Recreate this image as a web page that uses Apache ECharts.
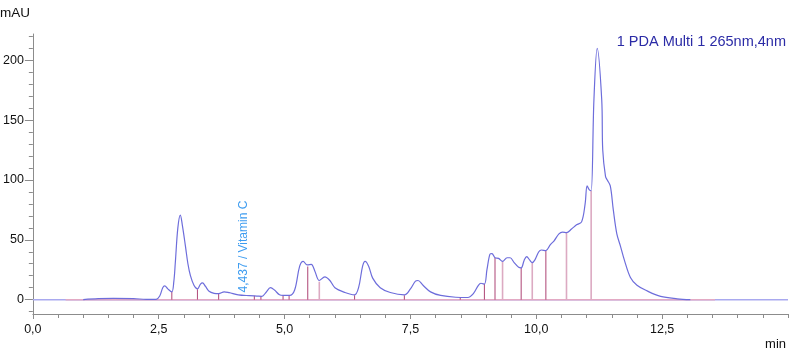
<!DOCTYPE html>
<html><head><meta charset="utf-8">
<script src="https://cdn.jsdelivr.net/npm/echarts@6/dist/echarts.min.js"></script>
<style>html,body{margin:0;padding:0;background:#fff}#c{width:790px;height:356px}</style>
</head><body><div id="c"></div>
<script>
// Chromatogram trace: retention time (min) and absorbance (mAU)
const traceTimes = [1.0,1.3,1.6,2.0,2.25,2.45,2.52,2.58,2.62,2.68,2.76,2.8,2.83,2.88,2.93,2.97,3.03,3.08,3.13,3.2,3.27,3.33,3.37,3.43,3.5,3.6,3.69,3.8,3.9,4.08,4.3,4.45,4.55,4.63,4.72,4.8,4.9,4.97,5.1,5.2,5.3,5.37,5.45,5.53,5.6,5.69,5.8,5.9,6.0,6.2,6.39,6.47,6.55,6.6,6.67,6.75,6.9,7.1,7.38,7.5,7.6,7.65,7.75,7.9,8.1,8.4,8.64,8.75,8.85,8.9,8.97,9.02,9.08,9.12,9.18,9.25,9.33,9.42,9.48,9.56,9.65,9.7,9.76,9.81,9.87,9.92,9.97,10.05,10.1,10.19,10.28,10.35,10.45,10.52,10.6,10.7,10.8,10.9,10.97,11.01,11.05,11.09,11.145,11.21,11.3,11.32,11.375,11.41,11.47,11.53,11.6,11.67,11.75,11.87,12.0,12.2,12.47,12.8,13.06];
const traceValues = [0,0.8,1.0,0.9,0.2,0.3,3,10,11.5,9,6.5,15,31,60,70.7,62,45,30,20,12,9,13,14,11,7,5.3,5,6.5,5.8,4,3.3,3,2.8,6,10,8,4,3.5,3.5,8,28,32,29,29.5,24,16,19,16,10,6,4,10,28,32,28,18,10,6,4,9,15.5,16,12,6.5,3.5,2,1.8,5,12,13.7,13,25,38,38.5,35,34.5,32,35,35,31,27,26.5,33,36,33,31,33,40,41.5,41,46,49,55,56.5,56,59,62.5,65,80,95,92,91,167,210,167,125,103,100,95,75,55,45,33,18.5,12,7.3,2.7,0.7,0];

// Integration drop lines (peak boundaries)
const dropTimes   = [2.76,3.27,3.69,4.40,4.53,4.97,5.09,5.46,5.69,6.39,7.38,8.49,8.97,9.18,9.33,9.70,9.92,10.19,10.60,11.09];
const dropHeights = [6.5,8.7,5.2,3.2,2.8,3.5,3.5,27.7,15,3.7,3.7,1.8,13,35,32,26.5,31,41,56,91];
const dropKinds   = [0,0,0,0,0,0,0,0,1,0,0,0,0,0,1,0,1,0,1,1];

const baselineStart = 0.65, baselineEnd = 13.55;
const xLabels = [0,2.5,5,7.5,10,12.5];
const xMinorTicks = [0,0.5,1,1.5,2,2.5,3,3.5,4,4.5,5,5.5,6,6.5,7,7.5,8,8.5,9,9.5,10,10.5,11,11.5,12,12.5,13,13.5,14,14.5,15];
const yLabels = [0,50,100,150,200];
const yMinorTicks = [-10,0,10,20,30,40,50,60,70,80,90,100,110,120,130,140,150,160,170,180,190,200,210,220];

const annotationTime = 4.437, annotationText = '4,437 / Vitamin C';
const channelTitle = '1 PDA Multi 1 265nm,4nm';

const FONT = 'Liberation Sans, Arial, sans-serif';
const fmt = v => v.toFixed(1).replace('.', ',');

const chart = echarts.init(document.getElementById('c'), null, {renderer:'canvas'});
const axisCol = '#8c8c8c';
const commonX = {type:'value', min:0, max:15, position:'bottom', splitLine:{show:false}};
const commonY = {type:'value', min:-12, max:222, position:'left', splitLine:{show:false}};

chart.setOption({
  animation:false,
  grid:{left:30, right:2, top:34, bottom:42},
  xAxis:[
    Object.assign({}, commonX, {
      axisLine:{show:true, onZero:false, lineStyle:{color:axisCol, width:1}},
      axisTick:{show:true, customValues:xLabels, length:5, lineStyle:{color:axisCol}},
      axisLabel:{show:true, customValues:xLabels, formatter:fmt, color:'#111', fontFamily:FONT, fontSize:12.5, margin:9}
    }),
    Object.assign({}, commonX, {
      axisLine:{show:false, onZero:false},
      axisTick:{show:true, customValues:xMinorTicks, length:4, lineStyle:{color:axisCol}},
      axisLabel:{show:false}
    })
  ],
  yAxis:[
    Object.assign({}, commonY, {
      axisLine:{show:true, onZero:false, lineStyle:{color:axisCol, width:1}},
      axisTick:{show:true, customValues:yLabels, length:8, lineStyle:{color:axisCol}},
      axisLabel:{show:true, customValues:yLabels, color:'#111', fontFamily:FONT, fontSize:12.5, margin:9}
    }),
    Object.assign({}, commonY, {
      axisLine:{show:false, onZero:false},
      axisTick:{show:true, customValues:yMinorTicks, length:4, lineStyle:{color:axisCol}},
      axisLabel:{show:false}
    })
  ],
  graphic:[
    {type:'text', left:0, top:6, style:{text:'mAU', fill:'#111', font:'13.5px '+FONT}},
    {type:'text', right:4, top:338, style:{text:'min', fill:'#111', font:'13px '+FONT}},
    {type:'text', right:4, top:34, style:{text:channelTitle, fill:'#2b2ba6', font:'14.5px '+FONT}}
  ],
  series:[
    { // full-width zero line
      type:'line', data:[[0,0],[15,0]], symbol:'none', silent:true,
      lineStyle:{color:'#a9a9ef', width:1.5}, z:1
    },
    { // integration baseline
      type:'line', data:[[baselineStart,0],[baselineEnd,0]], symbol:'none', silent:true,
      lineStyle:{color:'#e3aac4', width:1.5}, z:2
    },
    { // drop lines
      type:'custom', z:3, silent:true,
      data: dropTimes.map((t,i)=>[t, dropHeights[i], dropKinds[i]]),
      renderItem:(params, api)=>{
        const p0 = api.coord([api.value(0), 0]);
        const p1 = api.coord([api.value(0), api.value(1)]);
        const light = api.value(2) === 1;
        return {type:'line', shape:{x1:p0[0], y1:p0[1], x2:p1[0], y2:p1[1]},
          style:{stroke: light ? '#dcaac2' : '#b55581', lineWidth: light ? 1.6 : 1.1}};
      }
    },
    { // chromatogram trace
      type:'line', data: traceTimes.map((t,i)=>[t, traceValues[i]]), symbol:'none', smooth:0.35,
      lineStyle:{color:'#6d6ddb', width:1.2}, z:4, silent:true
    },
    { // peak annotation
      type:'custom', z:5, silent:true,
      data:[[annotationTime, 6]],
      renderItem:(params, api)=>{
        const p = api.coord([api.value(0), api.value(1)]);
        return {type:'text', x:p[0]-13, y:p[1], rotation:Math.PI/2,
          style:{text:annotationText, fill:'#3d9cf0', font:'12px '+FONT, align:'left', verticalAlign:'middle'}};
      }
    }
  ]
});
</script></body></html>
